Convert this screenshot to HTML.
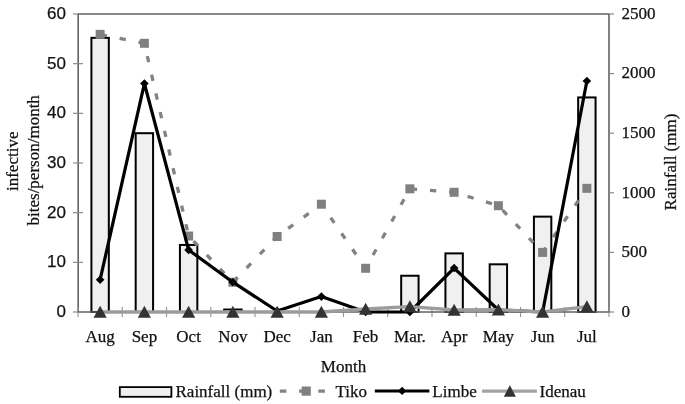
<!DOCTYPE html><html><head><meta charset="utf-8"><style>html,body{margin:0;padding:0;background:#fff;} text{stroke:#111;stroke-width:0.25px;}svg{display:block;filter:grayscale(1)}</style></head><body>
<svg width="685" height="404" viewBox="0 0 685 404">
<rect width="685" height="404" fill="#fff"/>
<line x1="78.0" y1="14.0" x2="609.0" y2="14.0" stroke="#626262" stroke-width="1.4"/>
<line x1="78.2" y1="14.0" x2="78.2" y2="312.0" stroke="#626262" stroke-width="1.6"/>
<line x1="609.0" y1="14.0" x2="609.0" y2="312.0" stroke="#626262" stroke-width="1.6"/>
<line x1="73.0" y1="312.00" x2="78.0" y2="312.00" stroke="#8a8a8a" stroke-width="1.2"/>
<text x="66" y="317.10" text-anchor="end" font-family='"Liberation Sans", sans-serif' font-size="17" fill="#111">0</text>
<line x1="73.0" y1="262.33" x2="83.0" y2="262.33" stroke="#8a8a8a" stroke-width="1.2"/>
<text x="66" y="267.43" text-anchor="end" font-family='"Liberation Sans", sans-serif' font-size="17" fill="#111">10</text>
<line x1="73.0" y1="212.67" x2="83.0" y2="212.67" stroke="#8a8a8a" stroke-width="1.2"/>
<text x="66" y="217.77" text-anchor="end" font-family='"Liberation Sans", sans-serif' font-size="17" fill="#111">20</text>
<line x1="73.0" y1="163.00" x2="83.0" y2="163.00" stroke="#8a8a8a" stroke-width="1.2"/>
<text x="66" y="168.10" text-anchor="end" font-family='"Liberation Sans", sans-serif' font-size="17" fill="#111">30</text>
<line x1="73.0" y1="113.33" x2="83.0" y2="113.33" stroke="#8a8a8a" stroke-width="1.2"/>
<text x="66" y="118.43" text-anchor="end" font-family='"Liberation Sans", sans-serif' font-size="17" fill="#111">40</text>
<line x1="73.0" y1="63.67" x2="83.0" y2="63.67" stroke="#8a8a8a" stroke-width="1.2"/>
<text x="66" y="68.77" text-anchor="end" font-family='"Liberation Sans", sans-serif' font-size="17" fill="#111">50</text>
<line x1="73.0" y1="14.00" x2="78.0" y2="14.00" stroke="#8a8a8a" stroke-width="1.2"/>
<text x="66" y="19.10" text-anchor="end" font-family='"Liberation Sans", sans-serif' font-size="17" fill="#111">60</text>
<line x1="609.0" y1="312.00" x2="614.0" y2="312.00" stroke="#8a8a8a" stroke-width="1.2"/>
<text x="621.5" y="316.75" font-family='"Liberation Serif", serif' font-size="17" fill="#111">0</text>
<line x1="609.0" y1="252.40" x2="614.0" y2="252.40" stroke="#8a8a8a" stroke-width="1.2"/>
<text x="621.5" y="257.15" font-family='"Liberation Serif", serif' font-size="17" fill="#111">500</text>
<line x1="609.0" y1="192.80" x2="614.0" y2="192.80" stroke="#8a8a8a" stroke-width="1.2"/>
<text x="621.5" y="197.55" font-family='"Liberation Serif", serif' font-size="17" fill="#111">1000</text>
<line x1="609.0" y1="133.20" x2="614.0" y2="133.20" stroke="#8a8a8a" stroke-width="1.2"/>
<text x="621.5" y="137.95" font-family='"Liberation Serif", serif' font-size="17" fill="#111">1500</text>
<line x1="609.0" y1="73.60" x2="614.0" y2="73.60" stroke="#8a8a8a" stroke-width="1.2"/>
<text x="621.5" y="78.35" font-family='"Liberation Serif", serif' font-size="17" fill="#111">2000</text>
<line x1="609.0" y1="14.00" x2="614.0" y2="14.00" stroke="#8a8a8a" stroke-width="1.2"/>
<text x="621.5" y="18.75" font-family='"Liberation Serif", serif' font-size="17" fill="#111">2500</text>
<line x1="78.00" y1="307.0" x2="78.00" y2="317.0" stroke="#949494" stroke-width="1.1"/>
<line x1="122.25" y1="307.0" x2="122.25" y2="317.0" stroke="#949494" stroke-width="1.1"/>
<line x1="166.50" y1="307.0" x2="166.50" y2="317.0" stroke="#949494" stroke-width="1.1"/>
<line x1="210.75" y1="307.0" x2="210.75" y2="317.0" stroke="#949494" stroke-width="1.1"/>
<line x1="255.00" y1="307.0" x2="255.00" y2="317.0" stroke="#949494" stroke-width="1.1"/>
<line x1="299.25" y1="307.0" x2="299.25" y2="317.0" stroke="#949494" stroke-width="1.1"/>
<line x1="343.50" y1="307.0" x2="343.50" y2="317.0" stroke="#949494" stroke-width="1.1"/>
<line x1="387.75" y1="307.0" x2="387.75" y2="317.0" stroke="#949494" stroke-width="1.1"/>
<line x1="432.00" y1="307.0" x2="432.00" y2="317.0" stroke="#949494" stroke-width="1.1"/>
<line x1="476.25" y1="307.0" x2="476.25" y2="317.0" stroke="#949494" stroke-width="1.1"/>
<line x1="520.50" y1="307.0" x2="520.50" y2="317.0" stroke="#949494" stroke-width="1.1"/>
<line x1="564.75" y1="307.0" x2="564.75" y2="317.0" stroke="#949494" stroke-width="1.1"/>
<line x1="609.00" y1="307.0" x2="609.00" y2="317.0" stroke="#949494" stroke-width="1.1"/>
<rect x="91.42" y="37.84" width="17.4" height="274.16" fill="#f0f0f0" stroke="#000" stroke-width="2"/>
<rect x="135.68" y="133.20" width="17.4" height="178.80" fill="#f0f0f0" stroke="#000" stroke-width="2"/>
<rect x="179.93" y="244.95" width="17.4" height="67.05" fill="#f0f0f0" stroke="#000" stroke-width="2"/>
<rect x="224.18" y="309.52" width="17.4" height="2.48" fill="#f0f0f0" stroke="#000" stroke-width="2"/>
<rect x="401.18" y="275.74" width="17.4" height="36.26" fill="#f0f0f0" stroke="#000" stroke-width="2"/>
<rect x="445.43" y="253.39" width="17.4" height="58.61" fill="#f0f0f0" stroke="#000" stroke-width="2"/>
<rect x="489.68" y="264.32" width="17.4" height="47.68" fill="#f0f0f0" stroke="#000" stroke-width="2"/>
<rect x="533.92" y="216.64" width="17.4" height="95.36" fill="#f0f0f0" stroke="#000" stroke-width="2"/>
<rect x="578.17" y="97.44" width="17.4" height="214.56" fill="#f0f0f0" stroke="#000" stroke-width="2"/>
<line x1="78.0" y1="312.0" x2="609.0" y2="312.0" stroke="#626262" stroke-width="1.4"/>
<polyline points="100.12,34.36 144.38,43.30 188.62,236.01 232.88,282.20 277.12,236.51 321.38,204.22 365.62,268.29 409.88,188.83 454.12,192.30 498.38,205.71 542.62,252.40 586.88,188.33" fill="none" stroke="#828282" stroke-width="3.3" stroke-dasharray="6.3 12.87" stroke-dashoffset="-0.73"/>
<rect x="95.62" y="29.86" width="9" height="9" fill="#808080"/>
<rect x="139.88" y="38.80" width="9" height="9" fill="#808080"/>
<rect x="184.12" y="231.51" width="9" height="9" fill="#808080"/>
<rect x="228.38" y="277.70" width="9" height="9" fill="#808080"/>
<rect x="272.62" y="232.01" width="9" height="9" fill="#808080"/>
<rect x="316.88" y="199.72" width="9" height="9" fill="#808080"/>
<rect x="361.12" y="263.79" width="9" height="9" fill="#808080"/>
<rect x="405.38" y="184.33" width="9" height="9" fill="#808080"/>
<rect x="449.62" y="187.80" width="9" height="9" fill="#808080"/>
<rect x="493.88" y="201.21" width="9" height="9" fill="#808080"/>
<rect x="538.12" y="247.90" width="9" height="9" fill="#808080"/>
<rect x="582.38" y="183.83" width="9" height="9" fill="#808080"/>
<polyline points="100.12,279.72 144.38,83.53 188.62,249.92 232.88,282.20 277.12,311.01 321.38,296.60 365.62,312.00 409.88,312.00 454.12,268.05 498.38,310.01 542.62,312.00 586.88,81.05" fill="none" stroke="#000" stroke-width="3.2" stroke-linejoin="round"/>
<path d="M100.12 275.42L104.42 279.72L100.12 284.02L95.83 279.72Z" fill="#000"/>
<path d="M144.38 79.23L148.68 83.53L144.38 87.83L140.07 83.53Z" fill="#000"/>
<path d="M188.62 245.62L192.93 249.92L188.62 254.22L184.32 249.92Z" fill="#000"/>
<path d="M232.88 277.90L237.18 282.20L232.88 286.50L228.57 282.20Z" fill="#000"/>
<path d="M277.12 306.71L281.43 311.01L277.12 315.31L272.82 311.01Z" fill="#000"/>
<path d="M321.38 292.30L325.68 296.60L321.38 300.90L317.07 296.60Z" fill="#000"/>
<path d="M365.62 307.70L369.93 312.00L365.62 316.30L361.32 312.00Z" fill="#000"/>
<path d="M409.88 307.70L414.18 312.00L409.88 316.30L405.57 312.00Z" fill="#000"/>
<path d="M454.12 263.75L458.43 268.05L454.12 272.35L449.82 268.05Z" fill="#000"/>
<path d="M498.38 305.71L502.68 310.01L498.38 314.31L494.07 310.01Z" fill="#000"/>
<path d="M542.62 307.70L546.92 312.00L542.62 316.30L538.33 312.00Z" fill="#000"/>
<path d="M586.88 76.75L591.17 81.05L586.88 85.35L582.58 81.05Z" fill="#000"/>
<polyline points="100.12,312.00 144.38,312.00 188.62,312.00 232.88,312.00 277.12,312.00 321.38,312.00 365.62,309.02 409.88,306.54 454.12,310.01 498.38,309.76 542.62,312.00 586.88,306.54" fill="none" stroke="#9c9c9c" stroke-width="3.3"/>
<path d="M100.12 305.80L106.72 317.80L93.53 317.80Z" fill="#333"/>
<path d="M144.38 305.80L150.97 317.80L137.78 317.80Z" fill="#333"/>
<path d="M188.62 305.80L195.22 317.80L182.03 317.80Z" fill="#333"/>
<path d="M232.88 305.80L239.47 317.80L226.28 317.80Z" fill="#333"/>
<path d="M277.12 305.80L283.73 317.80L270.52 317.80Z" fill="#333"/>
<path d="M321.38 305.80L327.98 317.80L314.77 317.80Z" fill="#333"/>
<path d="M365.62 302.82L372.23 314.82L359.02 314.82Z" fill="#333"/>
<path d="M409.88 300.34L416.48 312.34L403.27 312.34Z" fill="#333"/>
<path d="M454.12 303.81L460.73 315.81L447.52 315.81Z" fill="#333"/>
<path d="M498.38 303.56L504.98 315.56L491.77 315.56Z" fill="#333"/>
<path d="M542.62 305.80L549.23 317.80L536.02 317.80Z" fill="#333"/>
<path d="M586.88 300.34L593.48 312.34L580.27 312.34Z" fill="#333"/>
<text x="100.12" y="342.3" text-anchor="middle" font-family='"Liberation Serif", serif' font-size="17" fill="#111">Aug</text>
<text x="144.38" y="342.3" text-anchor="middle" font-family='"Liberation Serif", serif' font-size="17" fill="#111">Sep</text>
<text x="188.62" y="342.3" text-anchor="middle" font-family='"Liberation Serif", serif' font-size="17" fill="#111">Oct</text>
<text x="232.88" y="342.3" text-anchor="middle" font-family='"Liberation Serif", serif' font-size="17" fill="#111">Nov</text>
<text x="277.12" y="342.3" text-anchor="middle" font-family='"Liberation Serif", serif' font-size="17" fill="#111">Dec</text>
<text x="321.38" y="342.3" text-anchor="middle" font-family='"Liberation Serif", serif' font-size="17" fill="#111">Jan</text>
<text x="365.62" y="342.3" text-anchor="middle" font-family='"Liberation Serif", serif' font-size="17" fill="#111">Feb</text>
<text x="409.88" y="342.3" text-anchor="middle" font-family='"Liberation Serif", serif' font-size="17" fill="#111">Mar.</text>
<text x="454.12" y="342.3" text-anchor="middle" font-family='"Liberation Serif", serif' font-size="17" fill="#111">Apr</text>
<text x="498.38" y="342.3" text-anchor="middle" font-family='"Liberation Serif", serif' font-size="17" fill="#111">May</text>
<text x="542.62" y="342.3" text-anchor="middle" font-family='"Liberation Serif", serif' font-size="17" fill="#111">Jun</text>
<text x="586.88" y="342.3" text-anchor="middle" font-family='"Liberation Serif", serif' font-size="17" fill="#111">Jul</text>
<text x="343.5" y="371.7" text-anchor="middle" font-family='"Liberation Serif", serif' font-size="17" fill="#111">Month</text>
<text transform="translate(17.8,161.3) rotate(-90)" text-anchor="middle" font-family='"Liberation Serif", serif' font-size="17" fill="#111">infective</text>
<text transform="translate(39,160.3) rotate(-90)" text-anchor="middle" font-family='"Liberation Serif", serif' font-size="17" fill="#111">bites/person/month</text>
<text transform="translate(676.4,162) rotate(-90)" text-anchor="middle" font-family='"Liberation Serif", serif' font-size="17" fill="#111">Rainfall (mm)</text>
<rect x="119.8" y="387.1" width="51.6" height="9.7" fill="#efefef" stroke="#000" stroke-width="1.8"/>
<text x="175.5" y="397.1" font-family='"Liberation Serif", serif' font-size="17" fill="#111">Rainfall (mm)</text>
<line x1="279.8" y1="391.1" x2="325.1" y2="391.1" stroke="#828282" stroke-width="3.3" stroke-dasharray="6.6 12.65"/>
<rect x="301.6" y="386.5" width="9.2" height="9.2" fill="#808080"/>
<text x="335.5" y="397.1" font-family='"Liberation Serif", serif' font-size="17" fill="#111">Tiko</text>
<line x1="374.8" y1="390.90000000000003" x2="429.4" y2="390.90000000000003" stroke="#000" stroke-width="3"/>
<path d="M402.1 386.70000000000005L406.3 390.90000000000003L402.1 395.1L397.9 390.90000000000003Z" fill="#000"/>
<text x="432.3" y="397.1" font-family='"Liberation Serif", serif' font-size="17" fill="#111">Limbe</text>
<line x1="482.1" y1="391.1" x2="536.9" y2="391.1" stroke="#a3a3a3" stroke-width="3.4"/>
<path d="M509.85 385.2L515.9 396.8L503.8 396.8Z" fill="#333"/>
<text x="539.6" y="397.1" font-family='"Liberation Serif", serif' font-size="17" fill="#111">Idenau</text>
</svg></body></html>
